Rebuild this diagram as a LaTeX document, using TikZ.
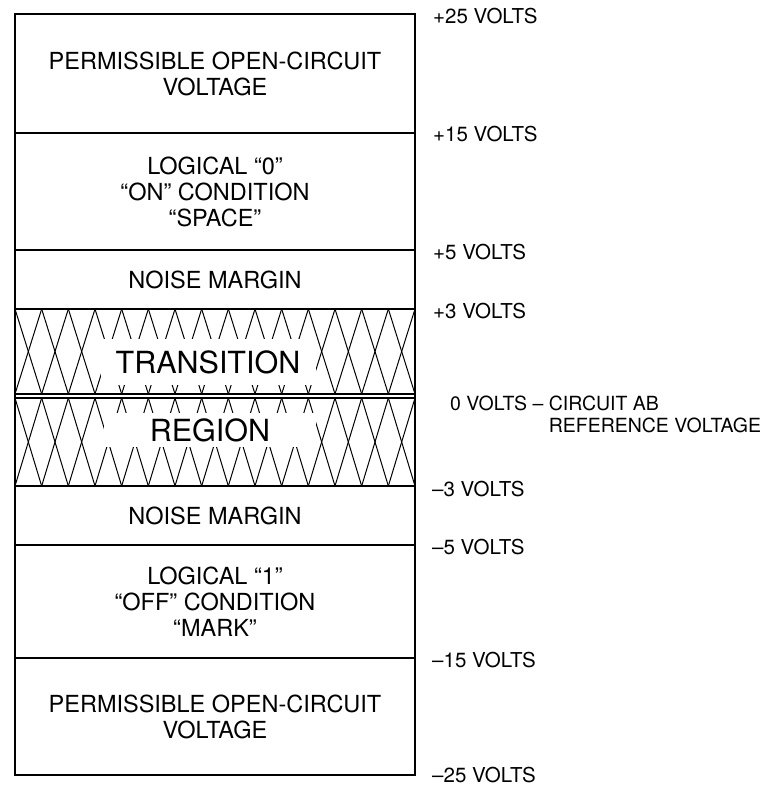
\documentclass[tikz,border=0pt]{standalone}
\usepackage{fontspec}
\setmainfont{TeX Gyre Heros}
\usetikzlibrary{positioning, calc}

\begin{document}
\begin{tikzpicture}[
            x=1pt, y=-1pt,
            frame/.style={line width=2.2pt},
            divider/.style={line width=1.3pt},
            hatch/.style={line width=1pt},
            bandtext/.style={align=center, inner sep=0pt, font=\fontsize{23.5}{26}\selectfont},
            patch/.style={fill=white, inner sep=0pt, font=\fontsize{30.5}{34}\selectfont},
            volt/.style={anchor=west, inner sep=0pt, font=\fontsize{20.5}{22}\selectfont}
        ]
            \useasboundingbox (0,0) rectangle (777,786);

            % --- Pegel ---
            \foreach \lv/\y in {p25/14, p15/133, p5/250, p3/309, za/394, zb/398, m3/486, m5/545, m15/658, m25/775} {
                \coordinate (L\lv) at (15,\y);
                \coordinate (R\lv) at (415,\y);
            }

            % --- Schraffur im Übergangsbereich ---
            \foreach \ya/\yb in {309/394, 398/486} {
                \foreach \k in {0,...,14} {
                    \draw[hatch] ({15+\k*400/15},\ya) -- ({15+(\k+1)*400/15},\yb);
                    \draw[hatch] ({15+(\k+1)*400/15},\ya) -- ({15+\k*400/15},\yb);
                }
            }
            \node[patch, minimum width=215pt, minimum height=46pt] (trans) at (208,362) {TRANSITION};
            \node[patch, minimum width=212pt, minimum height=34pt] (region) at (210,430) {REGION};

            % --- Rahmen und Trennlinien ---
            \foreach \lv in {p15, p5, p3, za, zb, m3, m5, m15}
                \draw[divider] (L\lv) -- (R\lv);
            \draw[frame] (Lp25) rectangle (Rm25);

            % --- Bereiche ---
            \node[bandtext] (poc1) at ($(Lp25)!0.5!(Rp15)$) {PERMISSIBLE OPEN-CIRCUIT\\VOLTAGE};
            \node[bandtext] (logic0) at ($(Lp15)!0.5!(Rp5)$) {LOGICAL ``0''\\``ON'' CONDITION\\``SPACE''};
            \node[bandtext] (nm1) at ($(Lp5)!0.5!(Rp3)$) {NOISE MARGIN};
            \node[bandtext] (nm2) at ($(Lm3)!0.5!(Rm5)$) {NOISE MARGIN};
            \node[bandtext] (logic1) at ($(Lm5)!0.5!(Rm15)$) {LOGICAL ``1''\\``OFF'' CONDITION\\``MARK''};
            \node[bandtext] (poc2) at ($(Lm15)!0.5!(Rm25)$) {PERMISSIBLE OPEN-CIRCUIT\\VOLTAGE};

            % --- Spannungen ---
            \node[volt, right=18pt of Rp25, yshift=-2pt] (v25) {+25 VOLTS};
            \node[volt, right=18pt of Rp15, yshift=-1pt] (v15) {+15 VOLTS};
            \node[volt, right=18pt of Rp5, yshift=-2pt] (v5) {+5 VOLTS};
            \node[volt, right=18pt of Rp3, yshift=-2pt] (v3) {+3 VOLTS};
            \node[volt, anchor=north west, align=left, font=\fontsize{19.5}{22}\selectfont] (v0) at (450,396)
              {0 VOLTS -- CIRCUIT AB\\\hphantom{0 VOLTS -- }REFERENCE VOLTAGE};
            \node[volt, right=17pt of Rm3, yshift=-3pt] (vm3) {--3 VOLTS};
            \node[volt, right=17pt of Rm5, yshift=-2pt] (vm5) {--5 VOLTS};
            \node[volt, right=17pt of Rm15, yshift=-2pt] (vm15) {--15 VOLTS};
            \node[volt, right=17pt of Rm25] (vm25) {--25 VOLTS};

        \end{tikzpicture}
\end{document}
